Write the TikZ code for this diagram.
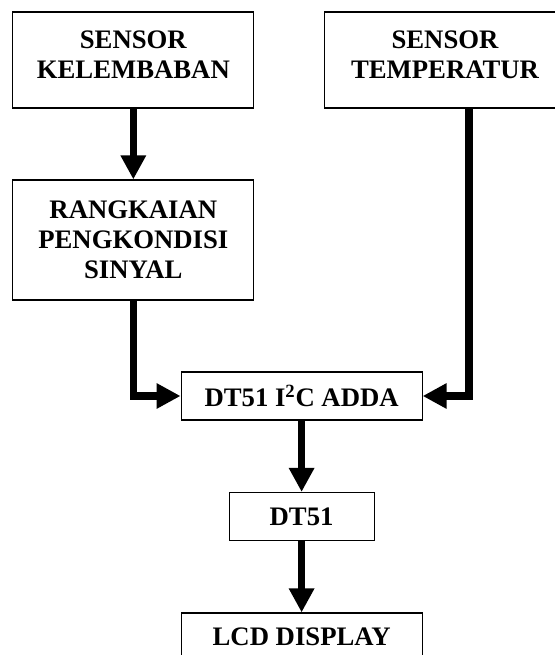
\documentclass[tikz,border=0pt]{standalone}
\usepackage{fontspec}
\setmainfont{Liberation Serif}
\usetikzlibrary{arrows.meta}

\begin{document}
\begin{tikzpicture}[
    blok/.style={draw, line width=.8pt, inner sep=0pt, align=center,
      minimum width=6.025cm, minimum height=1.2cm,
      font=\fontsize{19}{21.5}\selectfont\bfseries},
    alir/.style={line width=.19cm, -{Triangle[length=.6cm,width=.6cm]}}
  ]
            \useasboundingbox (0,0) rectangle (13.85,16.375);
            \node[blok, minimum height=2.4cm, text depth=.25cm] (kelembaban) at (3.333,14.875) {SENSOR\\KELEMBABAN};
            \node[blok, minimum height=2.4cm, text depth=.25cm] (temperatur) at (11.125,14.875) {SENSOR\\TEMPERATUR};
            \node[blok, minimum height=3cm] (rangkaian) at (3.333,10.375) {RANGKAIAN\\PENGKONDISI\\SINYAL};
            \node[blok] (adda) at (7.54,6.475) {DT51 I\textsuperscript{2}C ADDA};
            \node[blok, minimum width=3.625cm] (dt) at (7.54,3.4625) {DT51};
            \node[blok] (lcd) at (7.54,.45) {LCD DISPLAY};
            \coordinate (turun) at (11.725,13.675);
            \draw[alir] (kelembaban) -- (rangkaian);
            \draw[alir] (rangkaian.south) |- (adda.west);
            \draw[alir] (turun) |- (adda.east);
            \draw[alir] (adda) -- (dt);
            \draw[alir] (dt) -- (lcd);
\end{tikzpicture}
\end{document}
